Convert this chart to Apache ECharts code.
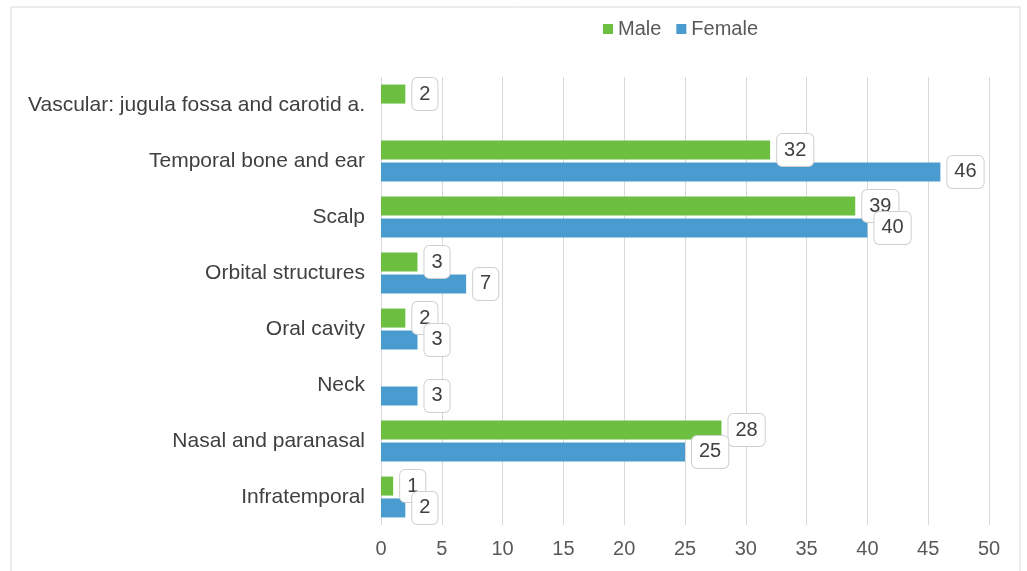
<!DOCTYPE html>
<html>
<head>
<meta charset="utf-8">
<script src="https://cdn.jsdelivr.net/npm/echarts@6/dist/echarts.min.js"></script>
<style>
  html, body { margin: 0; padding: 0; background: #fff; }
  #chart { width: 1027px; height: 571px; }
</style>
</head>
<body>
<div id="chart"></div>
<script>
var categories = ['Infratemporal', 'Nasal and paranasal', 'Neck', 'Oral cavity',
    'Orbital structures', 'Scalp', 'Temporal bone and ear', 'Vascular: jugula fossa and carotid a.'];
var male = [1, 28, null, 2, 3, 39, 32, 2];
var female = [2, 25, 3, 3, 7, 40, 46, null];
var xTicks = [0, 50, 5];

var chart = echarts.init(document.getElementById('chart'));

var labelStyle = {
    show: true,
    position: 'right',
    distance: 7,
    fontFamily: 'Liberation Sans',
    fontSize: 20,
    color: '#404040',
    backgroundColor: '#fff',
    borderColor: '#cfcfcf',
    borderWidth: 1,
    borderRadius: 5,
    padding: [7, 7, 5, 7]
};

var option = {
    textStyle: { fontFamily: 'Liberation Sans' },
    graphic: [{
        type: 'rect',
        shape: { x: 11, y: 7, width: 1009, height: 570 },
        style: { fill: 'none', stroke: '#d9d9d9', lineWidth: 1 },
        silent: true
    }],
    legend: {
        top: 14,
        left: 598,
        itemWidth: 10,
        itemHeight: 10,
        itemGap: 15,
        icon: 'rect',
        textStyle: { fontSize: 20, color: '#595959', fontFamily: 'Liberation Sans' },
        data: ['Male', 'Female']
    },
    grid: { left: 381, right: 38, top: 77, bottom: 46 },
    xAxis: {
        type: 'value',
        min: xTicks[0],
        max: xTicks[1],
        interval: xTicks[2],
        axisLine: { show: false },
        axisTick: { show: false },
        axisLabel: { fontSize: 20, color: '#595959', margin: 14 },
        splitLine: { lineStyle: { color: '#d9d9d9' } }
    },
    yAxis: {
        type: 'category',
        data: categories,
        axisLine: { show: false },
        axisTick: { show: false },
        axisLabel: { fontSize: 21, color: '#404040', margin: 16 }
    },
    series: [{
        name: 'Male',
        type: 'bar',
        data: male,
        itemStyle: { color: '#6cbf40' },
        barGap: '15%',
        barCategoryGap: '27%',
        label: labelStyle
    }, {
        name: 'Female',
        type: 'bar',
        data: female,
        itemStyle: { color: '#4a9bcf' },
        label: labelStyle
    }]
};
chart.setOption(option);
</script>
</body>
</html>
